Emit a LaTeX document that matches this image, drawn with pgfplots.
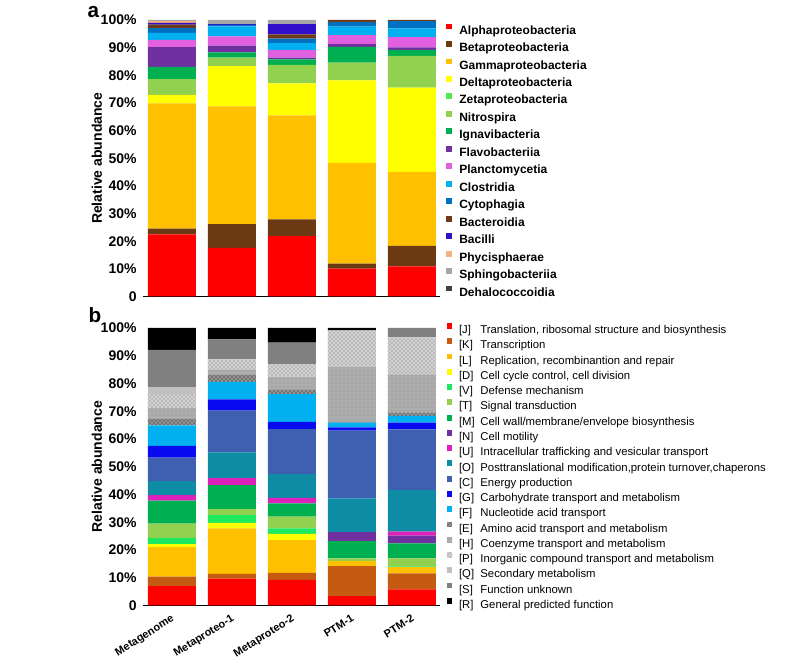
\documentclass[border=0pt]{standalone}
\usepackage{fontspec}
\setmainfont{Liberation Sans}
\usepackage{pgfplots}
\usepackage{pgfplotstable}
\pgfplotsset{compat=1.18}
\usetikzlibrary{patterns}

% panel a colours
\definecolor{cAlpha}{HTML}{FF0000}
\definecolor{cBeta}{HTML}{6B3A12}
\definecolor{cGamma}{HTML}{FFC000}
\definecolor{cDelta}{HTML}{FFFF00}
\definecolor{cZeta}{HTML}{55E855}
\definecolor{cNitro}{HTML}{92D050}
\definecolor{cIgna}{HTML}{00B050}
\definecolor{cFlavo}{HTML}{7030A0}
\definecolor{cPlanc}{HTML}{E060E0}
\definecolor{cClos}{HTML}{00B0F0}
\definecolor{cCyto}{HTML}{0070C0}
\definecolor{cBacte}{HTML}{6E3B1A}
\definecolor{cBaci}{HTML}{3010C8}
\definecolor{cPhyc}{HTML}{F4B183}
\definecolor{cSphi}{HTML}{A6A6A6}
\definecolor{cDeha}{HTML}{404040}
% panel b colours
\definecolor{cJ}{HTML}{FF0000}
\definecolor{cK}{HTML}{C55A11}
\definecolor{cL}{HTML}{FFC000}
\definecolor{cD}{HTML}{FFFF00}
\definecolor{cV}{HTML}{1EE860}
\definecolor{cT}{HTML}{92D050}
\definecolor{cM}{HTML}{00B050}
\definecolor{cN}{HTML}{7030A0}
\definecolor{cU}{HTML}{DD22BB}
\definecolor{cO}{HTML}{0E8CA6}
\definecolor{cC}{HTML}{3F5FB0}
\definecolor{cG}{HTML}{0A0AF0}
\definecolor{cF}{HTML}{00B0F0}
\definecolor{cQ}{HTML}{C0C0C0}
\definecolor{cS}{HTML}{808080}
\definecolor{cR}{HTML}{000000}

\pgfplotstableread{
x Alpha Beta Gamma Delta Zeta Nitro Igna Flavo Planc Clos Cyto Bacte Baci Phyc Sphi Deha
0 22.5 2.0 45.3 3.1 0 5.7 4.4 7.2 2.6 2.5 1.8 1.2 0.7 0.7 0.3 0
1 17.6 8.6 42.6 14.5 0 3.1 1.9 2.4 3.4 3.6 0.5 0 0.3 0 1.5 0
2 21.8 6.1 37.6 11.6 0 6.7 2.0 0.6 2.8 2.4 1.7 1.5 3.7 0 1.5 0
3 10.1 1.8 36.4 29.9 0 6.4 5.7 1.0 3.2 3.1 1.6 0.8 0 0 0 0
4 10.9 7.4 26.8 30.4 0 11.5 2.2 0.9 3.7 3.2 2.6 0.4 0 0 0 0
}\taba

\pgfplotstableread{
x J K L D V T M N U O C G F E H P Q S R
0 7.0 3.4 10.6 1.1 2.2 5.2 8.3 0 2.0 5.0 8.5 4.2 7.4 2.3 3.9 5.1 2.6 13.3 7.9
1 9.7 1.7 16.4 2.0 2.8 2.1 8.7 0 2.5 9.3 15.0 4.1 6.3 2.5 2.0 3.6 0 7.2 4.1
2 9.2 2.6 11.8 2.2 2.0 4.2 4.8 0 2.0 8.5 16.3 2.6 10.0 1.5 4.8 4.4 0 7.8 5.3
3 3.4 10.8 1.9 0 0 0.9 6.2 3.2 0 12.2 24.4 1.2 1.7 0.3 19.9 13.0 0 0 0.9
4 5.8 5.8 2.2 0 0.3 2.9 5.4 2.8 1.4 15.0 21.9 2.4 2.4 1.3 13.5 13.5 0 3.4 0
}\tabb

\pgfplotsset{
  panel/.style={
    scale only axis, width=222.75pt,
    ybar stacked, bar width=0.8,
    xmin=-0.483, xmax=4.467, ymin=0, ymax=100,
    axis x line=bottom, axis y line=left,
    x axis line style={-, line width=1.2pt},
    y axis line style={draw=none},
    tick style={draw=none},
    xtick={0,1,2,3,4},
    ytick={0,10,...,100},
    yticklabels={0,10\%,20\%,30\%,40\%,50\%,60\%,70\%,80\%,90\%,100\%},
    yticklabel style={font=\fontsize{10.5}{12}\selectfont\bfseries, inner sep=0pt, xshift=-2.5pt},
    ylabel={Relative abundance},
    every axis y label/.style={at={(axis description cs:-0.155,0.5)}, rotate=90, anchor=center,
      font=\fontsize{10.5}{12}\selectfont\bfseries},
    legend cell align=left,
    legend image code/.code={\path[##1] (0pt,1pt) rectangle (4.4pt,5.4pt);},
  },
  sq/.style={fill=#1, draw=none},
}

\begin{document}
\begin{tikzpicture}
\path[use as bounding box] (0,0) rectangle (608.25pt,500.25pt);

\begin{axis}[panel, at={(107.25pt,277.875pt)}, anchor=south west, height=207.375pt,
  xticklabels={},
  legend style={at={(1.0202,0.987)}, anchor=north west, draw=none, fill=none,
    inner sep=0pt, outer sep=0pt, row sep=3.2pt, column sep=5.6pt,
    font=\fontsize{9}{10}\selectfont\bfseries,
    nodes={inner sep=0pt, text height=7pt, text depth=2pt}},
]
\addplot[sq=cAlpha] table[x=x,y=Alpha] {\taba}; \addlegendentry{Alphaproteobacteria}
\addplot[sq=cBeta] table[x=x,y=Beta] {\taba}; \addlegendentry{Betaproteobacteria}
\addplot[sq=cGamma] table[x=x,y=Gamma] {\taba}; \addlegendentry{Gammaproteobacteria}
\addplot[sq=cDelta] table[x=x,y=Delta] {\taba}; \addlegendentry{Deltaproteobacteria}
\addplot[sq=cZeta] table[x=x,y=Zeta] {\taba}; \addlegendentry{Zetaproteobacteria}
\addplot[sq=cNitro] table[x=x,y=Nitro] {\taba}; \addlegendentry{Nitrospira}
\addplot[sq=cIgna] table[x=x,y=Igna] {\taba}; \addlegendentry{Ignavibacteria}
\addplot[sq=cFlavo] table[x=x,y=Flavo] {\taba}; \addlegendentry{Flavobacteriia}
\addplot[sq=cPlanc] table[x=x,y=Planc] {\taba}; \addlegendentry{Planctomycetia}
\addplot[sq=cClos] table[x=x,y=Clos] {\taba}; \addlegendentry{Clostridia}
\addplot[sq=cCyto] table[x=x,y=Cyto] {\taba}; \addlegendentry{Cytophagia}
\addplot[sq=cBacte] table[x=x,y=Bacte] {\taba}; \addlegendentry{Bacteroidia}
\addplot[sq=cBaci] table[x=x,y=Baci] {\taba}; \addlegendentry{Bacilli}
\addplot[sq=cPhyc] table[x=x,y=Phyc] {\taba}; \addlegendentry{Phycisphaerae}
\addplot[sq=cSphi] table[x=x,y=Sphi] {\taba}; \addlegendentry{Sphingobacteriia}
\addplot[sq=cDeha] table[x=x,y=Deha] {\taba}; \addlegendentry{Dehalococcoidia}
\end{axis}

\begin{axis}[panel, at={(107.25pt,46.125pt)}, anchor=south west, height=208.125pt,
  xticklabels={Metagenome,Metaproteo-1,Metaproteo-2,PTM-1,PTM-2},
  xticklabel style={font=\fontsize{8.2}{9}\selectfont\bfseries, rotate=32, anchor=north east,
    inner sep=0pt, xshift=-3pt, yshift=-3pt},
  legend style={at={(1.022,1.0177)}, anchor=north west, draw=none, fill=none,
    inner sep=0pt, outer sep=0pt, row sep=1.55pt, column sep=5.0pt,
    font=\fontsize{8.5}{10}\selectfont,
    nodes={inner sep=0pt, text height=7pt, text depth=2pt}},
]
\addplot[sq=cJ] table[x=x,y=J] {\tabb}; \addlegendentry{\makebox[16pt][l]{[J]}Translation, ribosomal structure and biosynthesis}
\addplot[sq=cK] table[x=x,y=K] {\tabb}; \addlegendentry{\makebox[16pt][l]{[K]}Transcription}
\addplot[sq=cL] table[x=x,y=L] {\tabb}; \addlegendentry{\makebox[16pt][l]{[L]}Replication, recombinantion and repair}
\addplot[sq=cD] table[x=x,y=D] {\tabb}; \addlegendentry{\makebox[16pt][l]{[D]}Cell cycle control, cell division}
\addplot[sq=cV] table[x=x,y=V] {\tabb}; \addlegendentry{\makebox[16pt][l]{[V]}Defense mechanism}
\addplot[sq=cT] table[x=x,y=T] {\tabb}; \addlegendentry{\makebox[16pt][l]{[T]}Signal transduction}
\addplot[sq=cM] table[x=x,y=M] {\tabb}; \addlegendentry{\makebox[16pt][l]{[M]}Cell wall/membrane/envelope biosynthesis}
\addplot[sq=cN] table[x=x,y=N] {\tabb}; \addlegendentry{\makebox[16pt][l]{[N]}Cell motility}
\addplot[sq=cU] table[x=x,y=U] {\tabb}; \addlegendentry{\makebox[16pt][l]{[U]}Intracellular trafficking and vesicular transport}
\addplot[sq=cO] table[x=x,y=O] {\tabb}; \addlegendentry{\makebox[16pt][l]{[O]}Posttranslational modification,protein turnover,chaperons}
\addplot[sq=cC] table[x=x,y=C] {\tabb}; \addlegendentry{\makebox[16pt][l]{[C]}Energy production}
\addplot[sq=cG] table[x=x,y=G] {\tabb}; \addlegendentry{\makebox[16pt][l]{[G]}Carbohydrate transport and metabolism}
\addplot[sq=cF] table[x=x,y=F] {\tabb}; \addlegendentry{\makebox[16pt][l]{[F]}Nucleotide acid transport}
\addplot[fill=black!55, draw=none, postaction={pattern=crosshatch dots, pattern color=white}]
  table[x=x,y=E] {\tabb}; \addlegendentry{\makebox[16pt][l]{[E]}Amino acid transport and metabolism}
\addplot[fill=black!32, draw=none, postaction={pattern=dots, pattern color=black!45}]
  table[x=x,y=H] {\tabb}; \addlegendentry{\makebox[16pt][l]{[H]}Coenzyme transport and metabolism}
\addplot[fill=black!18, draw=none, postaction={pattern=crosshatch dots, pattern color=black!55}]
  table[x=x,y=P] {\tabb}; \addlegendentry{\makebox[16pt][l]{[P]}Inorganic compound transport and metabolism}
\addplot[sq=cQ] table[x=x,y=Q] {\tabb}; \addlegendentry{\makebox[16pt][l]{[Q]}Secondary metabolism}
\addplot[sq=cS] table[x=x,y=S] {\tabb}; \addlegendentry{\makebox[16pt][l]{[S]}Function unknown}
\addplot[sq=cR] table[x=x,y=R] {\tabb}; \addlegendentry{\makebox[16pt][l]{[R]}General predicted function}
\end{axis}

\node[font=\fontsize{15.5}{17}\selectfont\bfseries] at (70.1pt,490.9pt) {a};
\node[font=\fontsize{15.5}{17}\selectfont\bfseries] at (71.25pt,264pt) {b};
\end{tikzpicture}
\end{document}
